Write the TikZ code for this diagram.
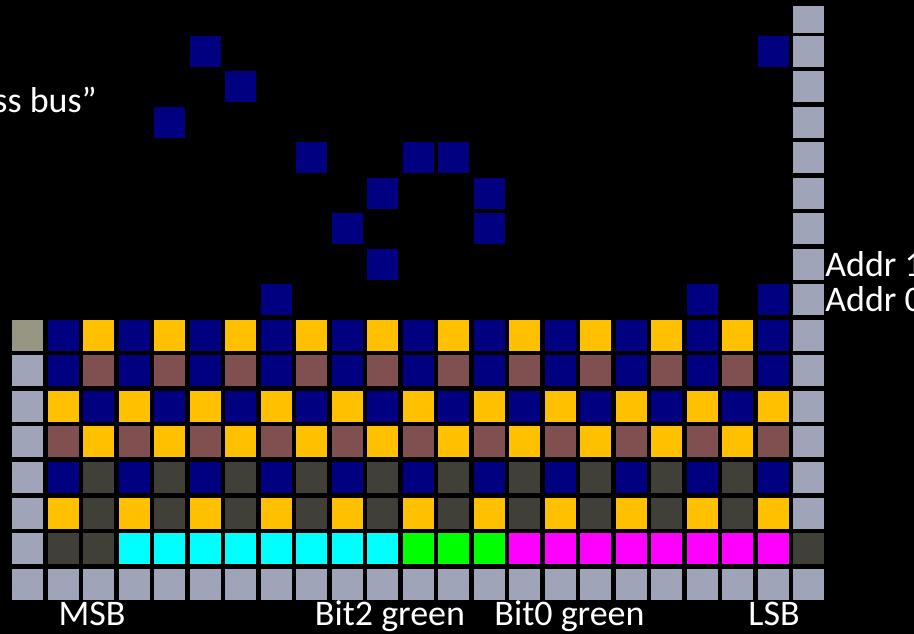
\documentclass[tikz,border=0pt]{standalone}
\usepackage{fontspec}
\setmainfont{Carlito}
\definecolor{navy}{RGB}{0,0,128}
\definecolor{gold}{RGB}{255,192,0}
\definecolor{rust}{RGB}{128,80,80}
\definecolor{slate}{RGB}{64,64,56}
\definecolor{pale}{RGB}{160,164,184}
\definecolor{khaki}{RGB}{150,150,130}
\definecolor{aqua}{RGB}{0,255,255}
\definecolor{lime}{RGB}{0,255,0}
\definecolor{fuchsia}{RGB}{255,0,255}
\tikzset{
  cell/.style={inner sep=0pt,minimum size=23.25pt},
  lbl/.style={text=white,inner sep=0pt,font=\fontsize{27}{32}\selectfont},
}
\begin{document}
\begin{tikzpicture}[x=0.75pt,y=-0.75pt]
    \path[use as bounding box,clip] (0,0) rectangle (914,634);
    \fill[black] (0,0) rectangle (914,634);
    \begin{scope}[shift={(27.5,335.5)},x=26.625pt,y=-26.625pt]
      % --- left column ---
      \node[cell,fill=khaki] (c0-0) at (0,0) {};
      \foreach \r in {1,...,7} \node[cell,fill=pale] (c0-\r) at (0,\r) {};
      % --- checkered rows ---
      \foreach \r/\oddc/\evenc in {0/navy/gold,1/navy/rust,2/gold/navy,3/rust/gold,4/navy/slate,5/gold/slate}
        \foreach \c in {1,...,21} {
          \ifodd\c \def\col{\oddc}\else\def\col{\evenc}\fi
          \node[cell,fill=\col] (c\c-\r) at (\c,\r) {};
        }
      % --- colour row and bottom row ---
      \foreach \a/\b/\col in {1/2/slate,3/10/aqua,11/13/lime,14/21/fuchsia}
        \foreach \c in {\a,...,\b} \node[cell,fill=\col] (c\c-6) at (\c,6) {};
      \foreach \c in {1,...,21} \node[cell,fill=pale] (c\c-7) at (\c,7) {};
      % --- right column, up the page ---
      \foreach \r in {-8,...,5,7} \node[cell,fill=pale] (r\r) at (22,\r) {};
      \node[cell,fill=slate] (r6) at (22,6) {};
      \node[cell,fill=pale,minimum height=20.25pt] (rtop) at (22,-8.901) {};
      % --- the "address bus" dots ---
      \foreach \c/\r [count=\i] in {5/-8,6/-7,4/-6,8/-5,11/-5,12/-5,10/-4,13/-4,9/-3,13/-3,10/-2,7/-1,19/-1,21/-1,21/-8}
        \node[cell,fill=navy] (dot\i) at (\c,\r) {};
    \end{scope}
    % --- labels ---
    \node[lbl,anchor=base east] (bus) at (97,113) {ss bus”};
    \node[lbl,anchor=base west] (addr1) at (825,277) {Addr 1};
    \node[lbl,anchor=base west] (addr0) at (825,312) {Addr 0};
    \node[lbl,anchor=base] (msb) at (92,625) {MSB};
    \node[lbl,anchor=base] (bit2) at (390,625) {Bit2 green};
    \node[lbl,anchor=base] (bit0) at (569.5,625) {Bit0 green};
    \node[lbl,anchor=base] (lsb) at (774,625) {LSB};
\end{tikzpicture}
\end{document}
